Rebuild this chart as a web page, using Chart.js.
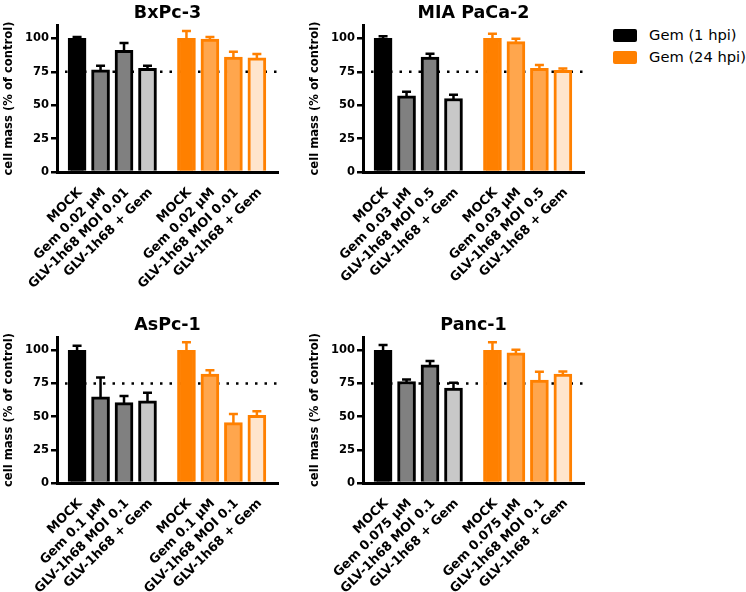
<!DOCTYPE html>
<html><head><meta charset="utf-8">
<script src="https://cdn.jsdelivr.net/npm/chart.js@4/dist/chart.umd.min.js"></script>
<style>
html,body{margin:0;padding:0;background:#fff}
body{width:746px;height:592px;overflow:hidden;position:relative;font-family:'DejaVu Sans',sans-serif}
canvas{position:absolute;display:block}
.leg{position:absolute;left:613px;width:24px;height:13px;border-radius:2px}
.legt{position:absolute;left:649px;font-size:14.7px;line-height:18px;color:#000;white-space:nowrap}
</style></head><body>
<canvas id="c1" width="290" height="300" style="left:0;top:0"></canvas>
<canvas id="c2" width="290" height="300" style="left:306px;top:0"></canvas>
<canvas id="c3" width="290" height="280" style="left:0;top:312px"></canvas>
<canvas id="c4" width="290" height="280" style="left:306px;top:312px"></canvas>
<div class="leg" style="top:29px;background:#000"></div>
<div class="legt" style="top:26px">Gem (1 hpi)</div>
<div class="leg" style="top:51px;background:#ff8000"></div>
<div class="legt" style="top:48px">Gem (24 hpi)</div>
<script>
// ---- data ----
const seriesNames = ['Gem (1 hpi)', 'Gem (24 hpi)'];
const panelTitles = ['BxPc-3', 'MIA PaCa-2', 'AsPc-1', 'Panc-1'];

const bxLabels   = ['MOCK', 'Gem 0.02 µM', 'GLV-1h68 MOI 0.01', 'GLV-1h68 + Gem'];
const miaLabels  = ['MOCK', 'Gem 0.03 µM', 'GLV-1h68 MOI 0.5', 'GLV-1h68 + Gem'];
const asLabels   = ['MOCK', 'Gem 0.1 µM', 'GLV-1h68 MOI 0.1', 'GLV-1h68 + Gem'];
const pancLabels = ['MOCK', 'Gem 0.075 µM', 'GLV-1h68 MOI 0.1', 'GLV-1h68 + Gem'];

const bx1h      = [100, 76.5, 91, 77.5];
const bx1hErr   = [1, 3, 5.5, 2];
const bx24h     = [100, 99.5, 86, 85.5];
const bx24hErr  = [5.5, 1.5, 4, 2.75];

const mia1h     = [100, 57, 86, 55];
const mia1hErr  = [1.5, 3, 2.5, 2.75];
const mia24h    = [100, 97.5, 77.5, 76];
const mia24hErr = [3.5, 2.25, 2.5, 1.5];

const as1h      = [100, 65, 60.5, 62];
const as1hErr   = [3.5, 14.5, 5, 6];
const as24h     = [100, 82, 45.5, 51];
const as24hErr  = [6, 3, 6.5, 3];

const panc1h     = [100, 76.5, 89, 71.5];
const panc1hErr  = [4, 1.5, 3, 4];
const panc24h    = [100, 98, 77.5, 82];
const panc24hErr = [6, 2.3, 6.3, 2];

const yTicks = [0, 25, 50, 75, 100];
const refLine = 75;

// ---- layout / style ----
const slotPos = [0, 1, 2, 3, 4.66, 5.66, 6.66, 7.66];
const fill1h = ['#000000', '#808080', '#808080', '#c8c8c8'];
const fill24h = ['#ff8000', '#ffa64d', '#ffa64d', '#ffe5cc'];
const edge = ['#000', '#000', '#000', '#000', '#ff8000', '#ff8000', '#ff8000', '#ff8000'];
const FONT = 'DejaVu Sans';

const refPlugin = {
  id: 'refLine',
  beforeDatasetsDraw(chart) {
    const {ctx, chartArea, scales} = chart;
    const y = scales.y.getPixelForValue(refLine);
    ctx.save();
    ctx.strokeStyle = '#000';
    ctx.lineWidth = 2.5;
    ctx.setLineDash([2.5, 7]);
    ctx.beginPath();
    ctx.moveTo(chartArea.left + 8, y);
    ctx.lineTo(chartArea.right, y);
    ctx.stroke();
    ctx.restore();
  }
};
const errPlugin = {
  id: 'errBars',
  afterDatasetsDraw(chart) {
    const {ctx, scales} = chart;
    chart.data.datasets.forEach((ds, di) => {
      chart.getDatasetMeta(di).data.forEach((el, i) => {
        const v = ds.data[i].y, e = ds.errors[i];
        const y0 = scales.y.getPixelForValue(v) + 1;
        const y1 = scales.y.getPixelForValue(v + e);
        ctx.save();
        ctx.strokeStyle = ds.errColors[i];
        ctx.lineWidth = 2.5;
        ctx.beginPath();
        ctx.moveTo(el.x, y0); ctx.lineTo(el.x, y1);
        ctx.moveTo(el.x - 4.5, y1); ctx.lineTo(el.x + 4.5, y1);
        ctx.stroke();
        ctx.restore();
      });
    });
  }
};

function makeChart(id, title, labels, v1, e1, v2, e2, xh) {
  const allLabels = labels.concat(labels);
  const vals = v1.concat(v2);
  const errs = e1.concat(e2);
  new Chart(document.getElementById(id), {
    type: 'bar',
    data: {
      datasets: [{
        label: seriesNames.join(' / '),
        data: slotPos.map((p, i) => ({x: p, y: vals[i]})),
        errors: errs,
        backgroundColor: fill1h.concat(fill24h),
        borderColor: edge,
        errColors: edge,
        borderWidth: 3,
        borderSkipped: 'start',
        barThickness: 18
      }]
    },
    options: {
      responsive: false,
      animation: false,
      devicePixelRatio: 1,
      layout: {padding: {left: 0, right: 12, top: 0, bottom: 0}},
      plugins: {
        legend: {display: false},
        tooltip: {enabled: false},
        title: {
          display: true, text: title, color: '#000', fullSize: false,
          font: {family: FONT, weight: 'bold', size: 17.5},
          padding: {top: 2.5, bottom: 1.5}
        }
      },
      scales: {
        x: {
          type: 'linear', min: -0.855, max: 8.56, offset: false,
          grid: {display: true, drawOnChartArea: false, drawTicks: false},
          border: {display: true, width: 3, color: '#000'},
          afterBuildTicks: s => { s.ticks = slotPos.map(v => ({value: v})); },
          ticks: {
            autoSkip: false, maxRotation: 45, minRotation: 45, padding: 13, labelOffset: 3, color: '#000',
            font: {family: FONT, weight: 'bold', size: 12.8},
            callback: (v, i) => allLabels[i]
          },
          afterFit: s => { s.height = xh; s.paddingLeft = 0; s.paddingRight = 0; }
        },
        y: {
          min: 0, max: 110, position: 'left',
          afterBuildTicks: s => { s.ticks = yTicks.map(v => ({value: v})); },
          ticks: {color: '#000', padding: 2, font: {family: FONT, weight: 'bold', size: 11.5}},
          grid: {drawOnChartArea: false, drawTicks: true, tickLength: 6, lineWidth: 2.5, color: '#000'},
          border: {display: true, width: 3, color: '#000'},
          title: {
            display: true, text: 'cell mass (% of control)', color: '#000',
            font: {family: FONT, weight: 'bold', size: 11.6},
            padding: {top: 2, bottom: 0}
          },
          afterFit: s => { s.width = 57; }
        }
      }
    },
    plugins: [refPlugin, errPlugin]
  });
}

makeChart('c1', panelTitles[0], bxLabels, bx1h, bx1hErr, bx24h, bx24hErr, 128);
makeChart('c2', panelTitles[1], miaLabels, mia1h, mia1hErr, mia24h, mia24hErr, 128);
makeChart('c3', panelTitles[2], asLabels, as1h, as1hErr, as24h, as24hErr, 109);
makeChart('c4', panelTitles[3], pancLabels, panc1h, panc1hErr, panc24h, panc24hErr, 109);
</script>
</body></html>
